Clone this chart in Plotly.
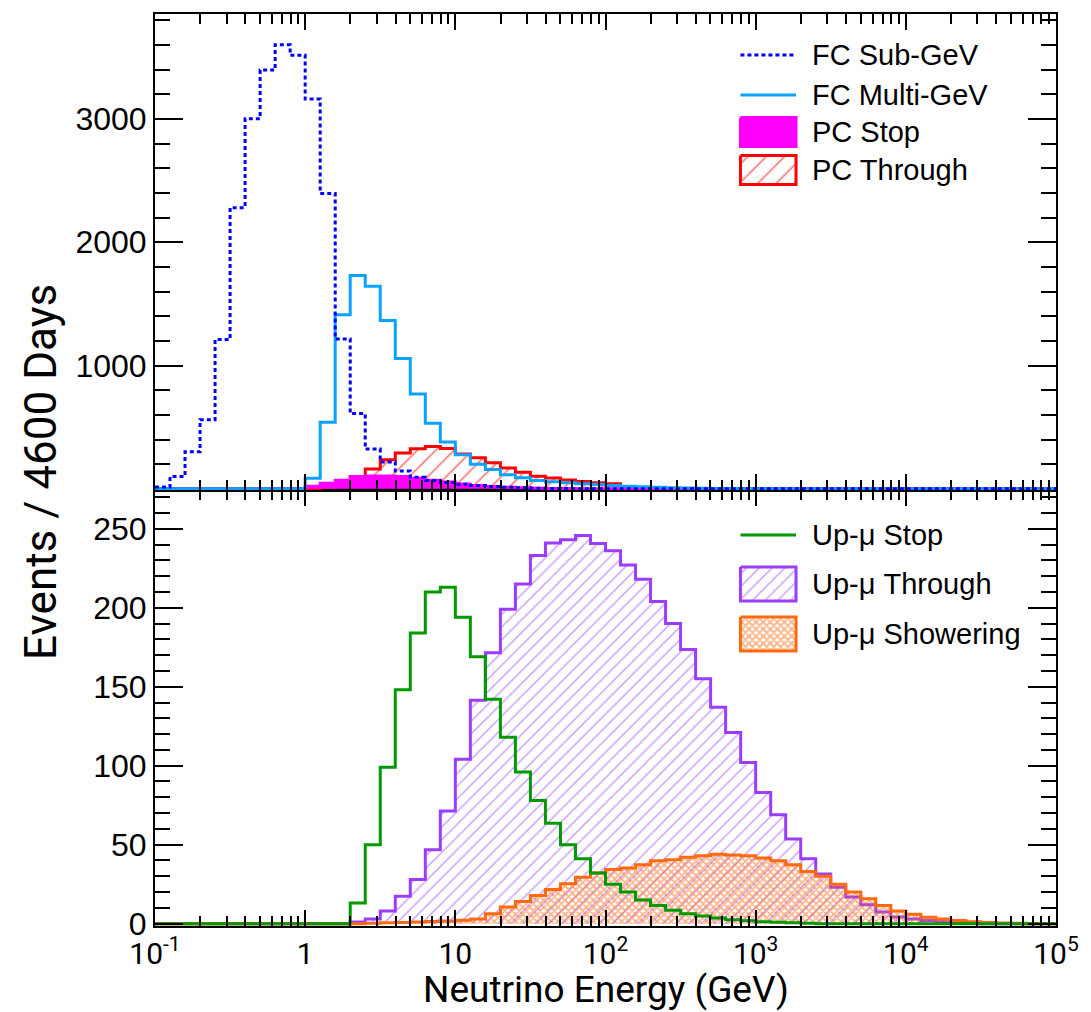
import plotly.graph_objects as go

# ---- binning: 10 logarithmic bins per decade from 0.1 GeV to 100 TeV ----
LOG_E_MIN, LOG_E_MAX, BINS_PER_DECADE = -1, 5, 10
N_BINS = (LOG_E_MAX - LOG_E_MIN) * BINS_PER_DECADE
bin_edges = [10 ** (LOG_E_MIN + i / BINS_PER_DECADE) for i in range(N_BINS + 1)]

# ---- expected events per energy bin (upper panel: contained samples) ----
fc_sub_gev = [15, 100, 300, 560, 1210, 2280, 3000, 3395, 3600, 3515,
              3160, 2395, 1215, 610, 322, 218, 145, 94, 68, 52,
              38, 26, 18, 12, 8, 5, 3, 2, 1, 0,
              0, 0, 0, 0, 0, 0, 0, 0, 0, 0,
              0, 0, 0, 0, 0, 0, 0, 0, 0, 0,
              0, 0, 0, 0, 0, 0, 0, 0, 0, 0]
fc_multi_gev = [0, 0, 0, 0, 0, 0, 0, 0, 0, 0,
                85, 540, 1411, 1730, 1642, 1365, 1056, 769, 532, 380,
                277, 200, 156, 115, 89, 67, 58, 50, 42, 36,
                28, 21, 16, 12, 8, 6, 4, 3, 2, 1,
                1, 1, 0, 0, 0, 0, 0, 0, 0, 0,
                0, 0, 0, 0, 0, 0, 0, 0, 0, 0]
pc_stop = [0, 0, 0, 0, 0, 0, 0, 0, 0, 0,
           20, 45, 70, 100, 105, 105, 100, 85, 70, 55,
           40, 28, 18, 12, 8, 5, 3, 2, 1, 0,
           0, 0, 0, 0, 0, 0, 0, 0, 0, 0,
           0, 0, 0, 0, 0, 0, 0, 0, 0, 0,
           0, 0, 0, 0, 0, 0, 0, 0, 0, 0]
pc_through = [0, 0, 0, 0, 0, 0, 0, 0, 0, 0,
              3, 10, 35, 95, 160, 235, 290, 325, 344, 328,
              282, 252, 212, 169, 135, 102, 88, 72, 59, 50,
              41, 15, 8, 4, 2, 1, 0, 0, 0, 0,
              0, 0, 0, 0, 0, 0, 0, 0, 0, 0,
              0, 0, 0, 0, 0, 0, 0, 0, 0, 0]

# ---- expected events per energy bin (lower panel: upward-going muons) ----
up_mu_stop = [0, 0, 0, 0, 0, 0, 0, 0, 0, 0,
              0, 0, 0, 13, 50, 99, 148, 184, 210, 213,
              194, 169, 142, 118, 96, 78, 63.5, 50, 41, 32,
              25, 20, 15, 11.5, 8.5, 6.3, 4.8, 3.5, 2.5, 1.8,
              1.2, 0.8, 0.5, 0.3, 0, 0, 0, 0, 0, 0,
              0, 0, 0, 0, 0, 0, 0, 0, 0, 0]
up_mu_through = [0, 0, 0, 0, 0, 0, 0, 0, 0, 0,
                 0, 0, 0, 1, 3, 8, 17.4, 28, 46.7, 71.3,
                 104, 141.5, 171.5, 199, 215, 233, 241, 243, 245.7, 240.7,
                 236, 227, 218, 204, 190, 173.6, 155, 137, 121, 102,
                 83, 69, 53.5, 41, 31.4, 23, 16.8, 12, 7.3, 4.2,
                 3, 2, 1.2, 0.7, 0.4, 0, 0, 0, 0, 0]
up_mu_showering = [0, 0, 0, 0, 0, 0, 0, 0, 0, 0,
                   0, 0, 0, 0, 0.3, 0.5, 0.7, 1, 1.3, 1.7,
                   2.2, 3, 6.3, 10.5, 14, 17.8, 21.6, 25.2, 29.3, 32,
                   34.2, 35.2, 37.3, 39.8, 40.5, 42, 43, 44, 43.4, 43,
                   41.5, 39.8, 37.3, 33, 30, 25, 20, 15.7, 11.5, 8,
                   6, 4, 3, 2, 1.2, 0.7, 0.4, 0.2, 0, 0]

# ---- axis ticks ----
x_tick_vals = [0.1, 1, 10, 100, 1000, 10000, 100000]
x_tick_text = ["10<sup>-1</sup>", "1", "10", "10<sup>2</sup>",
               "10<sup>3</sup>", "10<sup>4</sup>", "10<sup>5</sup>"]
top_y_ticks = [1000, 2000, 3000]
bottom_y_ticks = [0, 50, 100, 150, 200, 250]

# ---- styling ----
BLUE, SKY, MAGENTA, RED = "#0000ff", "#0aa2ff", "#ff00ff", "#ff0000"
GREEN, PURPLE, ORANGE = "#009a00", "#9b3dff", "#ff6a10"
TICK_FONT = "Liberation Sans, Arial, sans-serif"
TITLE_FONT = "Roboto, Liberation Sans, sans-serif"
LINE_W = 3

W, H = 1091, 1012
M_L, M_R, M_T, M_B = 155, 28, 14, 86
PANEL_SPLIT = 0.478  # fraction of plot height taken by the lower panel

RED_HATCH = dict(shape="/", fgcolor=RED, bgcolor="rgba(0,0,0,0)", size=13, solidity=0.14)
PURPLE_HATCH = dict(shape="/", fgcolor=PURPLE, bgcolor="rgba(0,0,0,0)", size=9, solidity=0.17)
ORANGE_CROSS = dict(shape="x", fgcolor=ORANGE, bgcolor="rgba(0,0,0,0)", size=5, solidity=0.6)


def steps(values):
    """Close a histogram so 'hv' steps cover the last bin."""
    return list(values) + [values[-1]]


def hist_trace(values, color, xa, ya, dash="solid", fill=None, pattern=None):
    kw = dict(x=bin_edges, y=steps(values), mode="lines", line_shape="hv",
              line=dict(color=color, width=LINE_W, dash=dash),
              xaxis=xa, yaxis=ya, showlegend=False, hoverinfo="skip")
    if fill == "solid":
        kw.update(fill="tozeroy", fillcolor=color)
    elif fill == "pattern":
        kw.update(fill="tozeroy", fillcolor="rgba(0,0,0,0)", fillpattern=pattern)
    return go.Scatter(**kw)


fig = go.Figure()

# upper panel: partially contained drawn first, contained on top
fig.add_trace(hist_trace(pc_through, RED, "x2", "y2", fill="pattern", pattern=RED_HATCH))
fig.add_trace(hist_trace(pc_stop, MAGENTA, "x2", "y2", fill="solid"))
fig.add_trace(hist_trace(fc_multi_gev, SKY, "x2", "y2"))
fig.add_trace(hist_trace(fc_sub_gev, BLUE, "x2", "y2", dash="4px,3px"))

# lower panel: upward-going muons
fig.add_trace(hist_trace(up_mu_through, PURPLE, "x", "y", fill="pattern", pattern=PURPLE_HATCH))
fig.add_trace(hist_trace(up_mu_showering, ORANGE, "x", "y", fill="pattern", pattern=ORANGE_CROSS))
fig.add_trace(hist_trace(up_mu_stop, GREEN, "x", "y"))

# ---- legend keys, drawn in a pixel-scaled overlay (x3/y3) ----
KEY_X0, KEY_X1, TEXT_X = 745, 801, 815
legend_entries = [
    # label, kind, colour, y-centre, half-height
    ("FC Sub-GeV", "dot", BLUE, 55, 0),
    ("FC Multi-GeV", "line", SKY, 95, 0),
    ("PC Stop", "solid", MAGENTA, 132, 14.5),
    ("PC Through", "hatch", RED, 170, 14.5),
    ("Up-\u03bc Stop", "line", GREEN, 535, 0),
    ("Up-\u03bc Through", "hatch", PURPLE, 584, 17),
    ("Up-\u03bc Showering", "cross", ORANGE, 634, 17),
]
for label, kind, color, yc, hh in legend_entries:
    if kind in ("dot", "line"):
        fig.add_trace(go.Scatter(
            x=[KEY_X0, KEY_X1], y=[yc, yc], mode="lines", xaxis="x3", yaxis="y3",
            line=dict(color=color, width=LINE_W, dash="4px,3px" if kind == "dot" else "solid"),
            showlegend=False, hoverinfo="skip"))
    else:
        box = dict(x=[KEY_X0, KEY_X1, KEY_X1, KEY_X0, KEY_X0],
                   y=[yc - hh, yc - hh, yc + hh, yc + hh, yc - hh],
                   mode="lines", fill="toself", xaxis="x3", yaxis="y3",
                   line=dict(color=color, width=LINE_W),
                   showlegend=False, hoverinfo="skip")
        if kind == "solid":
            box["fillcolor"] = color
        else:
            box["fillcolor"] = "rgba(0,0,0,0)"
            box["fillpattern"] = {RED: RED_HATCH, PURPLE: PURPLE_HATCH,
                                  ORANGE: ORANGE_CROSS}[color]
        fig.add_trace(go.Scatter(**box))
    fig.add_annotation(x=TEXT_X, y=yc, xref="x3", yref="y3", text=label,
                       showarrow=False, xanchor="left", yanchor="middle",
                       font=dict(family=TICK_FONT, size=29, color="black"))

# ---- axes ----
frame = dict(showline=True, linecolor="black", linewidth=2, mirror="ticks",
             ticks="inside", tickcolor="black", tickwidth=2,
             showgrid=False, zeroline=False)
minor_x = [m * 10 ** e for e in range(LOG_E_MIN, LOG_E_MAX) for m in range(2, 10)]
x_common = dict(type="log", range=[LOG_E_MIN, LOG_E_MAX], tickmode="array",
                tickvals=x_tick_vals, ticktext=x_tick_text, ticklen=16,
                minor=dict(tickmode="array", tickvals=minor_x, ticklen=10,
                           ticks="inside", tickcolor="black", tickwidth=2, showgrid=False),
                **frame)

fig.update_layout(
    width=W, height=H,
    margin=dict(l=M_L, r=M_R, t=M_T, b=M_B),
    paper_bgcolor="white", plot_bgcolor="rgba(0,0,0,0)",
    xaxis=dict(domain=[0, 1], anchor="y",
               tickfont=dict(family=TITLE_FONT, size=30, color="black"), **x_common),
    xaxis2=dict(domain=[0, 1], anchor="y2", matches="x", showticklabels=False, **x_common),
    yaxis=dict(domain=[0, PANEL_SPLIT], anchor="x", range=[-1.5, 274.5],
               tickmode="array", tickvals=bottom_y_ticks, ticklen=28,
               minor=dict(tickmode="array", tickvals=list(range(10, 275, 10)), ticklen=15,
                          ticks="inside", tickcolor="black", tickwidth=2, showgrid=False),
               tickfont=dict(family=TICK_FONT, size=32, color="black"), **frame),
    yaxis2=dict(domain=[PANEL_SPLIT, 1], anchor="x2", range=[-10, 3850],
                tickmode="array", tickvals=top_y_ticks, ticklen=28,
                minor=dict(tickmode="array", tickvals=list(range(200, 3850, 200)), ticklen=15,
                           ticks="inside", tickcolor="black", tickwidth=2, showgrid=False),
                tickfont=dict(family=TICK_FONT, size=32, color="black"), **frame),
    xaxis3=dict(domain=[0, 1], anchor="y3", range=[M_L, W - M_R], visible=False),
    yaxis3=dict(domain=[0, 1], anchor="x3", range=[H - M_B, M_T], visible=False),
)

plot_h = H - M_T - M_B
plot_w = W - M_L - M_R
# shared axis titles
fig.add_annotation(text="Neutrino Energy (GeV)", xref="paper", yref="paper",
                   x=0.5, y=(H - M_B - 989) / plot_h, showarrow=False,
                   xanchor="center", yanchor="middle",
                   font=dict(family=TITLE_FONT, size=37, color="black"))
fig.add_annotation(text="Events / 4600 Days", xref="paper", yref="paper",
                   x=(40 - M_L) / plot_w, y=(H - M_B - 472) / plot_h, textangle=-90,
                   showarrow=False, xanchor="center", yanchor="middle",
                   font=dict(family=TITLE_FONT, size=44, color="black"))

fig.write_html("out.html")
